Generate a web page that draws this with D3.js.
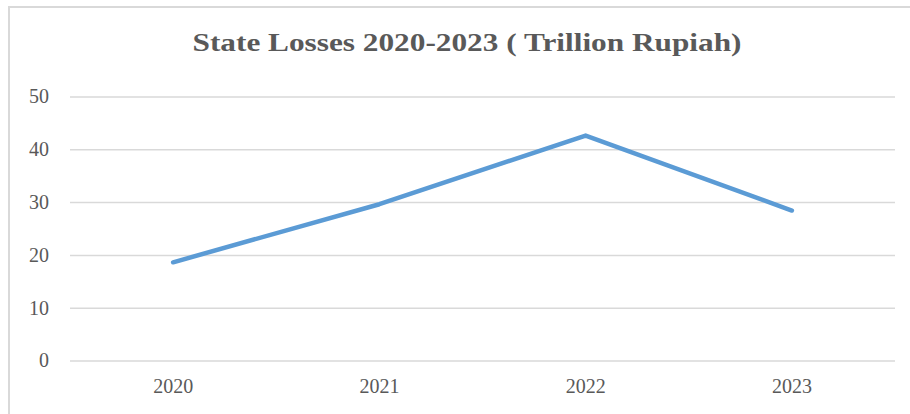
<!DOCTYPE html>
<html><head><meta charset="utf-8">
<script src="https://cdn.jsdelivr.net/npm/d3@7"></script>
<style>html,body{margin:0;padding:0;background:#fff;overflow:hidden}</style>
</head><body><svg id="c" width="910" height="414"></svg>
<script>
const categories = ["2020", "2021", "2022", "2023"];
const values = [18.6, 29.6, 42.6, 28.4];
const yTicks = [0, 10, 20, 30, 40, 50];
const title = "State Losses 2020-2023 ( Trillion Rupiah)";

const svg = d3.select("#c");
const W = 910, H = 414;
const m = {left: 70, right: 15, top: 96.5, bottom: 53.5};

svg.append("rect").attr("x", 9).attr("y", 7).attr("width", W + 20).attr("height", H + 20)
  .attr("fill", "#fff").attr("stroke", "#d9d9d9").attr("stroke-width", 2);

const x = d3.scaleBand().domain(categories).range([m.left, W - m.right]);
const y = d3.scaleLinear().domain([0, 50]).range([H - m.bottom, m.top]);

const font = "'Liberation Serif', 'DejaVu Serif', serif";

const gy = svg.append("g").attr("transform", `translate(${m.left},0)`)
  .call(d3.axisLeft(y).tickValues(yTicks).tickSize(-(W - m.right - m.left)).tickFormat(d => d).tickPadding(21));
gy.select(".domain").remove();
gy.selectAll(".tick line").attr("stroke", "#d9d9d9").attr("stroke-width", 1.5);
gy.selectAll(".tick text").attr("fill", "#595959").style("font-family", font).style("font-size", "20px");

const gx = svg.append("g").attr("transform", `translate(0,${H - m.bottom})`)
  .call(d3.axisBottom(x).tickSize(0).tickPadding(18));
gx.select(".domain").remove();
gx.selectAll(".tick text").attr("fill", "#595959").style("font-family", font).style("font-size", "20px");

const line = d3.line().x((d, i) => x(categories[i]) + x.bandwidth() / 2).y(d => y(d));
svg.append("path").datum(values).attr("d", line).attr("fill", "none")
  .attr("stroke", "#5B9BD5").attr("stroke-width", 4.5)
  .attr("stroke-linecap", "round").attr("stroke-linejoin", "round");

svg.append("text").attr("x", 467).attr("y", 51).attr("text-anchor", "middle")
  .attr("fill", "#595959").style("font-family", font).style("font-weight", "bold").style("font-size", "26px")
  .attr("textLength", 549).attr("lengthAdjust", "spacingAndGlyphs")
  .text(title);
</script></body></html>
